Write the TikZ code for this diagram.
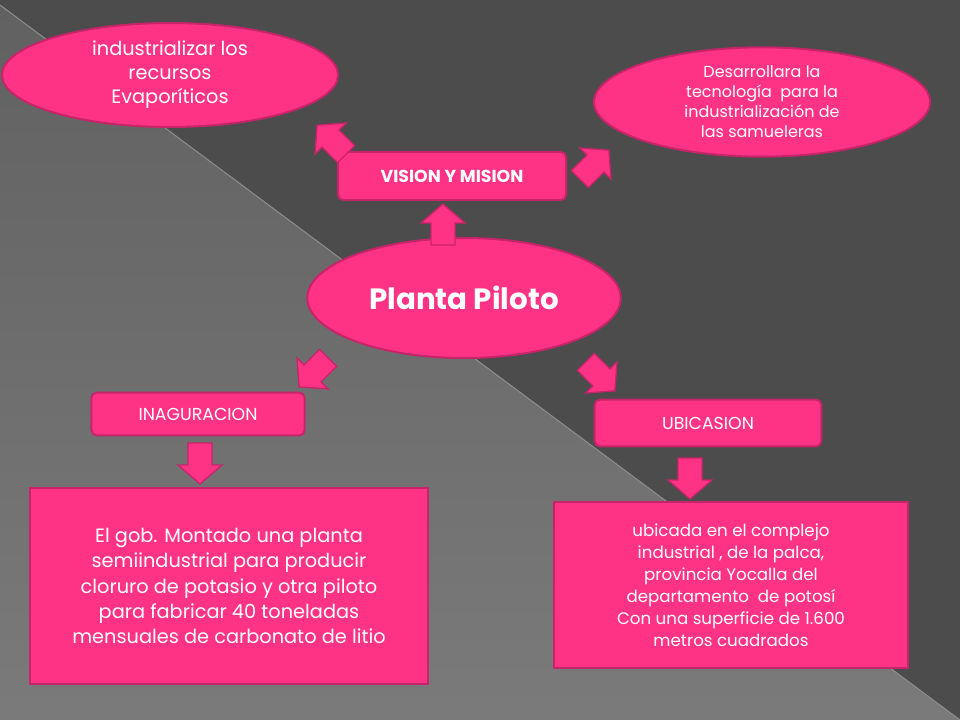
\documentclass[tikz,border=0pt]{standalone}
\usepackage{fontspec}
\setmainfont{Poppins}
\usetikzlibrary{shapes.geometric}
\definecolor{rosa}{RGB}{255,51,133}
\definecolor{rosaborde}{RGB}{200,36,106}
\tikzset{every picture/.style={line width=0.75pt},
  globo/.style={ellipse,fill=rosa,draw=rosaborde,line width=1.5pt,text=white,align=center,inner sep=0pt},
  caja/.style={rectangle,rounded corners=4pt,fill=rosa,draw=rosaborde,line width=1.5pt,text=white,align=center},
  flecha/.pic={\filldraw[fill=rosa,draw=rosaborde,line width=1pt] (-20,-12) -- (2,-12) -- (2,-22) -- (21,0) -- (2,22) -- (2,12) -- (-20,12) -- cycle;}}
\begin{document}
\begin{tikzpicture}[x=0.75pt,y=0.75pt,yscale=-1,xscale=1]
\useasboundingbox (0,0) rectangle (960,720);
%fondo
\fill[black!70] (0,0) rectangle (960,720);
\shade[top color=black!62,bottom color=black!52] (0,5) -- (960,720) -- (0,720) -- cycle;
\draw[black!45,line width=0.8pt] (0,5) -- (960,720);

%Globos
\node[globo,minimum width=252pt,minimum height=78pt,font=\fontsize{14.5}{18}\selectfont] (indus) at (170,75) {industrializar los\\recursos\\Evaporíticos};
\node[globo,minimum width=252pt,minimum height=82pt,font=\fontsize{12}{15}\selectfont] (tecno) at (762,102) {Desarrollara la\\tecnología\ \ para la\\industrialización\ de\\las samueleras};
\node[globo,minimum width=235pt,minimum height=90pt,font=\bfseries\fontsize{22}{25}\selectfont] (planta) at (464,298) {Planta Piloto};

%Cajas
\node[caja,minimum width=171pt,minimum height=36pt,font=\bfseries\fontsize{13}{15}\selectfont] (vision) at (452,176) {VISION Y MISION};
\node[caja,minimum width=160pt,minimum height=32pt,font=\fontsize{13}{15}\selectfont] (inag) at (198,414) {INAGURACION};
\node[caja,minimum width=170pt,minimum height=35pt,font=\fontsize{13}{15}\selectfont] (ubic) at (708,423) {UBICASION};
\node[caja,rounded corners=0pt,minimum width=298pt,minimum height=147pt,font=\fontsize{14.5}{19}\selectfont] (gob) at (229,586) {El gob. Montado una planta\\semiindustrial para producir\\cloruro de potasio y otra piloto\\para fabricar 40 toneladas\\mensuales de carbonato de litio};
\node[caja,rounded corners=0pt,minimum width=265pt,minimum height=124pt,font=\fontsize{12.5}{16.5}\selectfont] (ubicada) at (731,585) {ubicada en el complejo\\industrial\ , de la palca,\\provincia Yocalla del\\departamento\ \ de potosí\\Con una superficie de 1.600\\metros cuadrados};

%Flechas
\pic[rotate=90] at (443,225) {flecha};
\pic[rotate=135] at (332,140) {flecha};
\pic[rotate=45] at (594,165) {flecha};
\pic[rotate=-135] at (314,372) {flecha};
\pic[rotate=-45] at (600,376) {flecha};
\pic[rotate=-90] at (200,463) {flecha};
\pic[rotate=-90] at (690,478) {flecha};
\end{tikzpicture}
\end{document}
